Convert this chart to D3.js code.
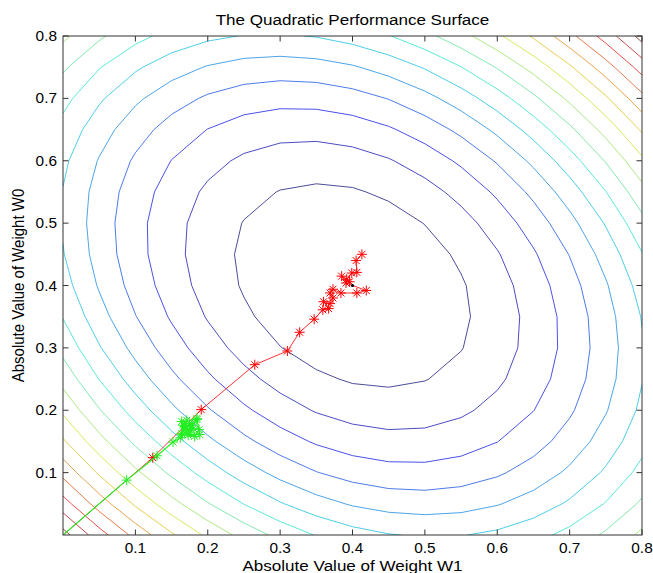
<!DOCTYPE html>
<html>
<head>
<meta charset="utf-8">
<script src="https://cdn.jsdelivr.net/npm/d3@7"></script>
<style>
  body { margin: 0; background: #fff; }
  text { font-family: "Liberation Sans", Arial, sans-serif; fill: #000; }
</style>
</head>
<body>
<svg id="chart" width="653" height="573"></svg>
<script>
// surface: J(w) = (w - wOpt)' R (w - wOpt)
var wOpt = [0.4, 0.4];
var R = [[1, 0.28], [0.28, 1]];
var gridStep = 0.05;
var levels = [0.025, 0.05, 0.075, 0.1, 0.125, 0.15, 0.175, 0.2,
              0.225, 0.25, 0.275, 0.3, 0.325, 0.35, 0.375, 0.4];

// weight tracks [w1, w0]
var redTrack = [[0, 0], [0.124, 0.124], [0.191, 0.201], [0.265, 0.273], [0.310, 0.295],
  [0.327, 0.325], [0.347, 0.346], [0.359, 0.361], [0.367, 0.363], [0.360, 0.374],
  [0.369, 0.371], [0.373, 0.380], [0.369, 0.388], [0.373, 0.394], [0.384, 0.388],
  [0.406, 0.388], [0.419, 0.392], [0.391, 0.404], [0.385, 0.415], [0.396, 0.406],
  [0.392, 0.410], [0.399, 0.420], [0.406, 0.421], [0.405, 0.440], [0.413, 0.450]];
var greenTrack = [[0, 0], [0.088, 0.088], [0.130, 0.127], [0.152, 0.149], [0.162, 0.156],
  [0.166, 0.176], [0.171, 0.184], [0.164, 0.163], [0.175, 0.179], [0.180, 0.171],
  [0.173, 0.160], [0.182, 0.158], [0.188, 0.169], [0.185, 0.187], [0.170, 0.170],
  [0.164, 0.182], [0.165, 0.161], [0.189, 0.161], [0.185, 0.185], [0.176, 0.168],
  [0.168, 0.174], [0.178, 0.176], [0.172, 0.165]];

var tickVals = [0.1, 0.2, 0.3, 0.4, 0.5, 0.6, 0.7, 0.8];

var svg = d3.select('#chart');
var pL = 63, pR = 642, pT = 36, pB = 535;

var x = d3.scaleLinear().domain([0, 0.8]).range([pL, pR]);
var y = d3.scaleLinear().domain([0, 0.8]).range([pB, pT]);

// jet colormap over the level range, a bit washed out like the jpeg
var jet = d3.scaleLinear()
    .domain([0, 0.125, 0.375, 0.625, 0.875, 1])
    .range(['#00007f', '#0000ff', '#00ffff', '#ffff00', '#ff0000', '#7f0000'])
    .clamp(true);
var levelColor = d3.scaleLinear().domain(d3.extent(levels)).range([0, 1]);
function contourColor(lv) {
    return d3.interpolateRgb(jet(levelColor(lv)), '#a0a0a0')(0.28);
}

function J(w1, w0) {
    var a = w1 - wOpt[0], b = w0 - wOpt[1];
    return R[0][0]*a*a + 2*R[0][1]*a*b + R[1][1]*b*b;
}

var gv = d3.range(0, 0.8 + 1e-9, gridStep);
var Z = gv.map(function(w0) { return gv.map(function(w1) { return J(w1, w0); }); });

// marching squares, returns list of segments
function contourSegs(lv) {
    var segs = [];
    for (var j = 0; j < gv.length - 1; j++) {
        for (var i = 0; i < gv.length - 1; i++) {
            var c = [[gv[i], gv[j], Z[j][i]], [gv[i+1], gv[j], Z[j][i+1]],
                     [gv[i+1], gv[j+1], Z[j+1][i+1]], [gv[i], gv[j+1], Z[j+1][i]]];
            var pts = [];
            for (var k = 0; k < 4; k++) {
                var p = c[k], q = c[(k+1) % 4];
                if ((p[2] - lv) * (q[2] - lv) < 0) {
                    var t = (lv - p[2]) / (q[2] - p[2]);
                    pts.push([p[0] + t*(q[0]-p[0]), p[1] + t*(q[1]-p[1])]);
                }
            }
            if (pts.length >= 2) segs.push([pts[0], pts[1]]);
            if (pts.length === 4) segs.push([pts[2], pts[3]]);
        }
    }
    return segs;
}

svg.append('defs').append('clipPath').attr('id', 'plotClip')
    .append('rect').attr('x', pL).attr('y', pT)
    .attr('width', pR - pL).attr('height', pB - pT);

var plot = svg.append('g').attr('clip-path', 'url(#plotClip)');

plot.selectAll('.contour')
    .data(levels)
    .enter().append('path')
    .attr('class', 'contour')
    .attr('fill', 'none')
    .attr('stroke', contourColor)
    .attr('stroke-opacity', 0.85)
    .attr('stroke-width', 1)
    .attr('d', function(d) {
        return contourSegs(d).map(function(s) {
            return 'M' + x(s[0][0]) + ',' + y(s[0][1]) + 'L' + x(s[1][0]) + ',' + y(s[1][1]);
        }).join('');
    });

var line = d3.line().x(function(d) { return x(d[0]); }).y(function(d) { return y(d[1]); });
var star = 'M-5,0H5M0,-5V5M-3.5,-3.5L3.5,3.5M-3.5,3.5L3.5,-3.5';

function drawTrack(data, color, lw) {
    plot.append('path').datum(data)
        .attr('fill', 'none').attr('stroke', color).attr('stroke-width', lw)
        .attr('d', line);
    plot.selectAll(null).data(data.slice(1))
        .enter().append('path')
        .attr('d', star)
        .attr('transform', function(d) { return 'translate(' + x(d[0]) + ',' + y(d[1]) + ')'; })
        .attr('fill', 'none').attr('stroke', color).attr('stroke-width', 1);
}
drawTrack(redTrack, '#ff0000', 0.8);
drawTrack(greenTrack, '#22ee22', 1.1);

plot.append('circle').attr('cx', x(wOpt[0])).attr('cy', y(wOpt[1])).attr('r', 1.6).attr('fill', '#000');

// axes box and inward ticks
var axisColor = '#333';
svg.append('rect').attr('x', pL).attr('y', pT)
    .attr('width', pR - pL).attr('height', pB - pT)
    .attr('fill', 'none').attr('stroke', axisColor).attr('stroke-width', 1);

var tl = 5.5;
var ticks = svg.append('g').attr('stroke', axisColor).attr('stroke-width', 1);
tickVals.forEach(function(v) {
    ticks.append('line').attr('x1', x(v)).attr('x2', x(v)).attr('y1', pB).attr('y2', pB - tl);
    ticks.append('line').attr('x1', x(v)).attr('x2', x(v)).attr('y1', pT).attr('y2', pT + tl);
    ticks.append('line').attr('y1', y(v)).attr('y2', y(v)).attr('x1', pL).attr('x2', pL + tl);
    ticks.append('line').attr('y1', y(v)).attr('y2', y(v)).attr('x1', pR).attr('x2', pR - tl);
});

var sx = 1.1;
svg.selectAll('.xtick').data(tickVals).enter().append('text')
    .attr('class', 'xtick')
    .attr('transform', function(d) { return 'translate(' + x(d) + ',' + (pB + 18) + ') scale(' + sx + ',1)'; })
    .attr('text-anchor', 'middle').style('font-size', '14px')
    .text(function(d) { return d3.format('.1f')(d); });

svg.selectAll('.ytick').data(tickVals).enter().append('text')
    .attr('class', 'ytick')
    .attr('transform', function(d) { return 'translate(' + (pL - 6) + ',' + (y(d) + 5) + ') scale(' + sx + ',1)'; })
    .attr('text-anchor', 'end').style('font-size', '14px')
    .text(function(d) { return d3.format('.1f')(d); });

svg.append('text')
    .attr('transform', 'translate(' + ((pL + pR) / 2) + ',25) scale(' + sx + ',1)')
    .attr('text-anchor', 'middle').style('font-size', '15.5px')
    .text('The Quadratic Performance Surface');

svg.append('text')
    .attr('transform', 'translate(' + ((pL + pR) / 2) + ',571) scale(' + sx + ',1)')
    .attr('text-anchor', 'middle').style('font-size', '15.5px')
    .text('Absolute Value of Weight W1');

svg.append('text')
    .attr('transform', 'translate(24,' + ((pT + pB) / 2) + ') scale(' + sx + ',1) rotate(-90)')
    .attr('text-anchor', 'middle').style('font-size', '15px')
    .text('Absolute Value of Weight W0');
</script>
</body>
</html>
